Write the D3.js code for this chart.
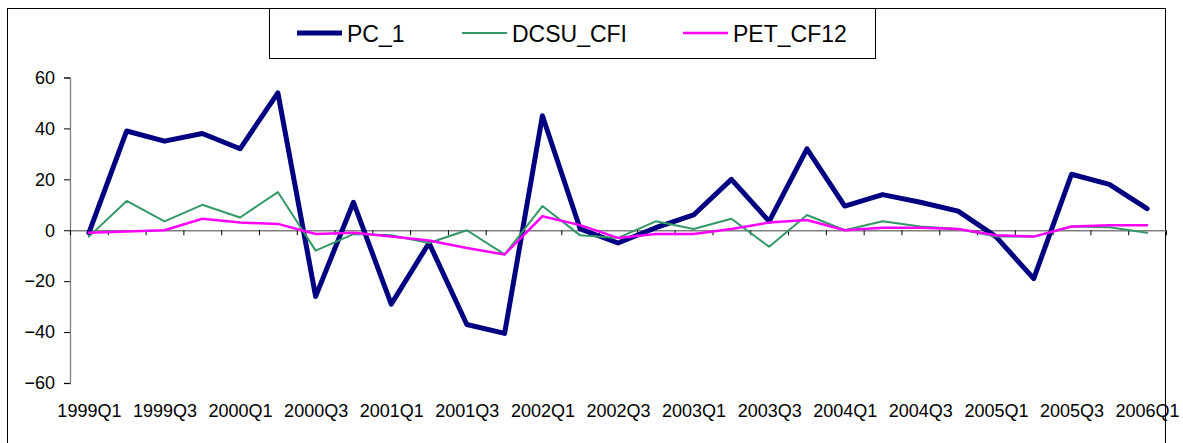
<!DOCTYPE html>
<html>
<head>
<meta charset="utf-8">
<script src="https://cdn.jsdelivr.net/npm/d3@7"></script>
<style>
  html, body { margin: 0; padding: 0; background: #fff; }
  svg { display: block; font-family: "Liberation Sans", Arial, sans-serif; }
</style>
</head>
<body>
<svg id="chart" width="1183" height="443"></svg>
<script>
const categories = ["1999Q1","1999Q2","1999Q3","1999Q4","2000Q1","2000Q2","2000Q3","2000Q4",
  "2001Q1","2001Q2","2001Q3","2001Q4","2002Q1","2002Q2","2002Q3","2002Q4",
  "2003Q1","2003Q2","2003Q3","2003Q4","2004Q1","2004Q2","2004Q3","2004Q4",
  "2005Q1","2005Q2","2005Q3","2005Q4","2006Q1"];
const pc1  = [-1, 39, 35, 38, 32, 54, -26, 11, -29, -5, -37, -40.5, 45, 0.5, -5, 1,
  6, 20, 3.5, 32, 9.5, 14, 11, 7.5, -2.5, -19, 22, 18, 8.5];
const dcsu = [-2.5, 11.5, 3.5, 10, 5, 15, -8, -1.5, -2, -5, 0, -9.5, 9.5, -2, -3, 3.5,
  0.5, 4.5, -6.5, 6, 0, 3.5, 1.5, 0.5, -2.5, -2.5, 1.5, 1.2, -1];
const pet  = [-1, -0.5, 0, 4.5, 3, 2.5, -1.5, -1, -2.5, -4, -7, -9.5, 5.5, 2, -3, -1.5,
  -1.5, 0.5, 3, 4, 0, 1, 1, 0.5, -2, -2.5, 1.5, 2, 2];
const yTicks = [-60, -40, -20, 0, 20, 40, 60];
const xLabels = categories.filter((d, i) => i % 2 === 0);
const seriesNames = ["PC_1", "DCSU_CFI", "PET_CF12"];
const seriesColors = ["#000080", "#339966", "#FF00FF"];
const seriesWidths = [5, 2, 2.5];

const svg = d3.select("#chart");
const plotL = 70, plotR = 1166, plotT = 77.5, plotB = 383;

// chart border
svg.append("rect").attr("x", 7.5).attr("y", 8.5).attr("width", 1158).attr("height", 460)
  .attr("fill", "none").attr("stroke", "#000").attr("stroke-width", 1);

const x = d3.scalePoint().domain(categories).range([plotL, plotR]).padding(0.5);
const xi = d3.scaleLinear().domain([0, categories.length]).range([plotL, plotR]);
const y = d3.scaleLinear().domain([-60, 60]).range([plotB, plotT]);

// y axis
const yAxis = svg.append("g").attr("transform", `translate(${plotL},0)`)
  .call(d3.axisLeft(y).tickValues(yTicks).tickSize(6).tickPadding(9).tickFormat(d3.format("d")));
yAxis.selectAll("text").attr("font-size", 18).attr("fill", "#000")
  .attr("font-family", "'Liberation Sans', Arial, sans-serif");
yAxis.selectAll("line").attr("stroke", "#000");
yAxis.select(".domain").attr("stroke", "#808080").attr("stroke-width", 1.3);

// zero line with category ticks
const xAxis = svg.append("g").attr("transform", `translate(0,${y(0)})`)
  .call(d3.axisBottom(xi).tickValues(d3.range(categories.length + 1)).tickSize(5).tickSizeOuter(0).tickFormat(""));
xAxis.select(".domain").attr("stroke", "#808080").attr("stroke-width", 1.7);
xAxis.selectAll("line").attr("stroke", "#000");

// x labels at bottom
const xLab = svg.append("g").attr("transform", `translate(0,${plotB + 17})`)
  .call(d3.axisBottom(x).tickValues(xLabels).tickSize(0).tickPadding(4));
xLab.select(".domain").remove();
xLab.selectAll("text").attr("font-size", 18).attr("fill", "#000")
  .attr("font-family", "'Liberation Sans', Arial, sans-serif");

// lines
const data = [pc1, dcsu, pet];
const line = d3.line().x((d, i) => x(categories[i])).y(d => y(d));
data.forEach((vals, k) => {
  svg.append("path").datum(vals).attr("d", line).attr("fill", "none")
    .attr("stroke", seriesColors[k]).attr("stroke-width", seriesWidths[k])
    .attr("stroke-linejoin", "round").attr("stroke-linecap", "round");
});

// legend
const lg = svg.append("g");
lg.append("rect").attr("x", 269.5).attr("y", 8.5).attr("width", 606).attr("height", 50)
  .attr("fill", "#fff").attr("stroke", "#000");
const legX = [297, 462, 683];
seriesNames.forEach((n, k) => {
  lg.append("line").attr("x1", legX[k]).attr("x2", legX[k] + 45).attr("y1", 33).attr("y2", 33)
    .attr("stroke", seriesColors[k]).attr("stroke-width", seriesWidths[k]);
  lg.append("text").attr("x", legX[k] + 50).attr("y", 41.5).attr("font-size", 23)
    .attr("fill", "#000").text(n);
});
</script>
</body>
</html>
